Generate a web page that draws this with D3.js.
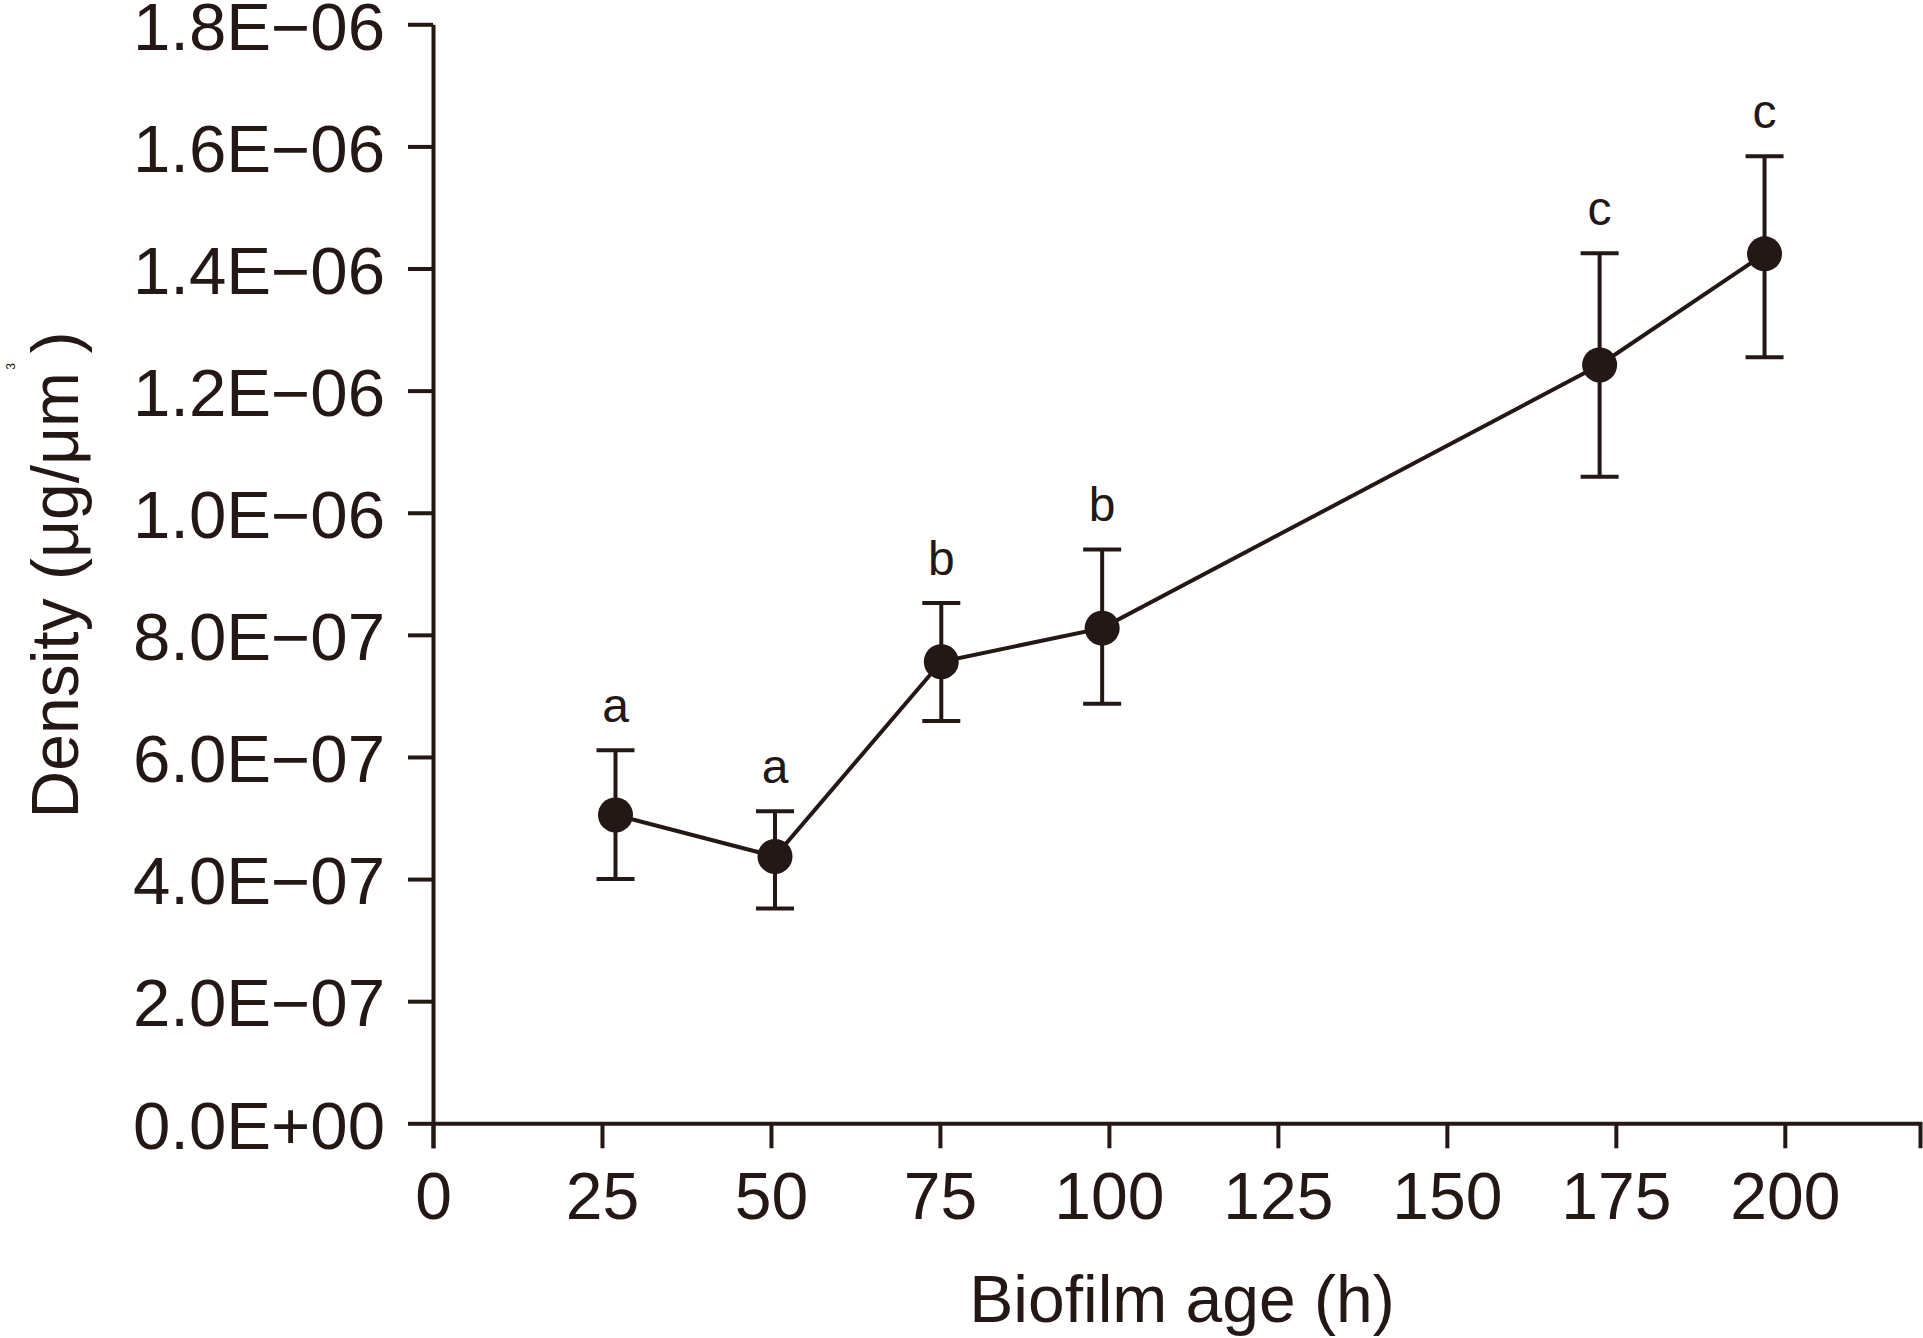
<!DOCTYPE html>
<html><head><meta charset="utf-8">
<script src="https://cdn.jsdelivr.net/npm/d3@7"></script>
<style>html,body{margin:0;padding:0;background:#fff;} svg{display:block;}</style>
</head><body>
<svg id="chart" width="1923" height="1338"></svg>
<script>
// ---- data ----
const hours = [27, 50.6, 75.2, 99, 172.6, 197];
const density = [5.05e-7, 4.37e-7, 7.56e-7, 8.11e-7, 1.242e-6, 1.424e-6];
const errUpper = [6.11e-7, 5.11e-7, 8.52e-7, 9.40e-7, 1.425e-6, 1.584e-6];
const errLower = [4.00e-7, 3.52e-7, 6.59e-7, 6.87e-7, 1.059e-6, 1.2545e-6];
const groupLetters = ["a", "a", "b", "b", "c", "c"];
const xTicks = [0, 25, 50, 75, 100, 125, 150, 175, 200];
const xTickLabels = ["0", "25", "50", "75", "100", "125", "150", "175", "200"];
const yTicks = [0, 2e-7, 4e-7, 6e-7, 8e-7, 1e-6, 1.2e-6, 1.4e-6, 1.6e-6, 1.8e-6];
const yTickLabels = ["0.0E+00", "2.0E\u221207", "4.0E\u221207", "6.0E\u221207", "8.0E\u221207",
                     "1.0E\u221206", "1.2E\u221206", "1.4E\u221206", "1.6E\u221206", "1.8E\u221206"];
const xTitle = "Biofilm age (h)";
const yTitle = "Density (\u03bcg/\u03bcm )";
const yTitleSup = "3";

// ---- layout ----
const ink = "#231815";
const font = "'Liberation Sans', Arial, Helvetica, sans-serif";
const svg = d3.select("#chart");
const x = d3.scaleLinear().domain([0, 220]).range([433, 1920]);
const y = d3.scaleLinear().domain([0, 1.8e-6]).range([1123.3, 24.3]);

const xAxis = svg.append("g").attr("transform", `translate(0,${y(0)})`)
  .call(d3.axisBottom(x).tickValues(xTicks).tickFormat((d, i) => xTickLabels[i])
    .tickSize(25).tickSizeOuter(25).tickPadding(24));
const yAxis = svg.append("g").attr("transform", `translate(${x(0)},0)`)
  .call(d3.axisLeft(y).tickValues(yTicks).tickFormat((d, i) => yTickLabels[i])
    .tickSize(25).tickSizeOuter(0).tickPadding(23));

[xAxis, yAxis].forEach(g => {
  g.selectAll("path.domain").attr("stroke", ink).attr("stroke-width", 4);
  g.selectAll(".tick line").attr("stroke", ink).attr("stroke-width", 4);
  g.selectAll(".tick text").attr("fill", ink).style("font-family", font).style("font-size", "66px");
});
yAxis.selectAll(".tick text")
  .attr("dy", "0.375em")
  .attr("textLength", 252).attr("lengthAdjust", "spacingAndGlyphs");

// connecting line
const pts = hours.map((h, i) => ({h, v: density[i], hi: errUpper[i], lo: errLower[i], L: groupLetters[i]}));
svg.append("path").datum(pts)
  .attr("d", d3.line().x(d => x(d.h)).y(d => y(d.v)))
  .attr("fill", "none").attr("stroke", ink).attr("stroke-width", 4);

// error bars
const eb = svg.append("g").attr("stroke", ink).attr("stroke-width", 4);
eb.selectAll("line.v").data(pts).join("line").attr("class", "v")
  .attr("x1", d => x(d.h)).attr("x2", d => x(d.h)).attr("y1", d => y(d.lo)).attr("y2", d => y(d.hi));
eb.selectAll("line.t").data(pts).join("line").attr("class", "t")
  .attr("x1", d => x(d.h) - 19).attr("x2", d => x(d.h) + 19).attr("y1", d => y(d.hi)).attr("y2", d => y(d.hi));
eb.selectAll("line.b").data(pts).join("line").attr("class", "b")
  .attr("x1", d => x(d.h) - 19).attr("x2", d => x(d.h) + 19).attr("y1", d => y(d.lo)).attr("y2", d => y(d.lo));

// markers
svg.append("g").selectAll("circle").data(pts).join("circle")
  .attr("cx", d => x(d.h)).attr("cy", d => y(d.v)).attr("r", 17.5).attr("fill", ink);

// group letters
svg.append("g").selectAll("text").data(pts).join("text")
  .attr("x", d => x(d.h)).attr("y", d => y(d.hi) - 28)
  .attr("text-anchor", "middle").attr("fill", ink)
  .style("font-family", font).style("font-size", "48px").text(d => d.L);

// axis titles
svg.append("text").attr("x", 1182).attr("y", 1322).attr("text-anchor", "middle")
  .attr("fill", ink).style("font-family", font).style("font-size", "66px").text(xTitle);
const yt = svg.append("g").attr("transform", "translate(78,575) rotate(-90)");
yt.append("text").attr("x", 0).attr("y", 0).attr("text-anchor", "middle")
  .attr("fill", ink).style("font-family", font).style("font-size", "66px").text(yTitle);
yt.append("text").attr("x", 208.5).attr("y", -63).attr("text-anchor", "middle")
  .attr("fill", ink).style("font-family", font).style("font-size", "12px").text(yTitleSup);
</script>
</body></html>
